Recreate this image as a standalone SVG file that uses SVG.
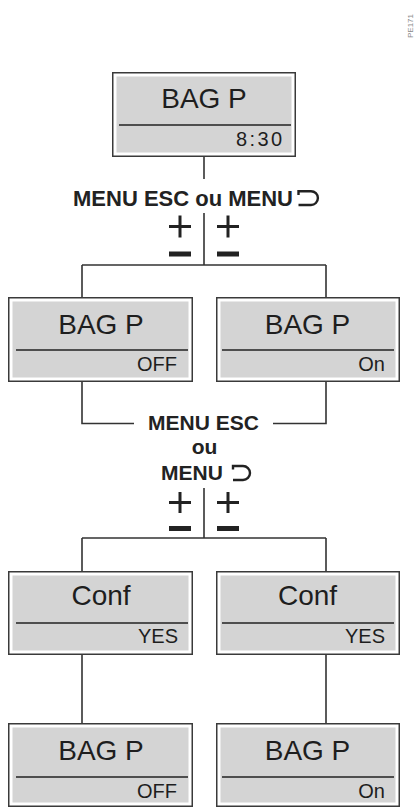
<svg xmlns="http://www.w3.org/2000/svg" width="417" height="808" viewBox="0 0 417 808">
<style>
.frame{fill:#fff;stroke:#3a3a3a;stroke-width:1.5}
.lcd{fill:#d4d4d4}
.div{stroke:#222;stroke-width:1.3}
.title{font-family:"Liberation Sans","DejaVu Sans",sans-serif;font-size:28px;fill:#1e1e1e;text-anchor:middle}
.sub{font-family:"Liberation Sans","DejaVu Sans",sans-serif;font-size:20px;fill:#1e1e1e;text-anchor:end}
.lbl{font-family:"Liberation Sans",Arial,sans-serif;font-size:22px;font-weight:bold;fill:#222}
.lbl2{font-family:"Liberation Sans",Arial,sans-serif;font-size:21px;font-weight:bold;fill:#222}
.con{fill:none;stroke:#333;stroke-width:1.6}
.sym{fill:none;stroke:#222;stroke-width:2.4}
.plus{stroke:#222;stroke-width:3}
.minus{stroke:#222;stroke-width:5}
.code{font-family:"Liberation Sans",sans-serif;font-size:8px;fill:#8a8a8a}
</style>

<text class="code" transform="translate(413,38) rotate(-90)">PE171</text>

<g id="connectors">
  <path class="con" d="M204 157 V179"/>
  <path class="con" d="M204 213 V265 M82 265 H326 M82 265 V297 M326 265 V297"/>
  <path class="con" d="M82 382 V423.5 H134 M273 423.5 H326 V382"/>
  <path class="con" d="M204 488 V538 M82 538 H326 M82 538 V571 M326 538 V571"/>
  <path class="con" d="M82 655 V723 M326 655 V723"/>
</g>

<g id="label-1">
  <text class="lbl" x="73" y="206">MENU ESC ou MENU</text>
  <path class="sym" d="M298.5 195 V191.2 H311 A6.9 6.9 0 0 1 311 205 H298.5"/>
</g>
<g id="keys-1">
  <path class="plus" d="M169 226.5 H191 M180 215.5 V237.5 M217 226.5 H239 M228 215.5 V237.5"/>
  <path class="minus" d="M169 254 H191 M217 254 H239"/>
</g>

<g id="label-2">
  <text class="lbl2" x="148" y="429.5">MENU ESC</text>
  <text class="lbl2" x="204.5" y="454" text-anchor="middle">ou</text>
  <text class="lbl2" x="161" y="480">MENU</text>
  <path class="sym" d="M233 469.5 V466 H243 A7 7 0 0 1 243 480 H233"/>
</g>
<g id="keys-2">
  <path class="plus" d="M169 502.5 H191 M180 492 V513 M217 502.5 H239 M228 492 V513"/>
  <path class="minus" d="M169 528.5 H191 M217 528.5 H239"/>
</g>

<g id="node-top">
  <rect class="frame" x="112.75" y="72.75" width="182.5" height="83.5"/>
  <rect class="lcd" x="116.5" y="76.5" width="175" height="76"/>
  <line class="div" x1="119" y1="125" x2="291" y2="125"/>
  <text class="title" x="204" y="108">BAG P</text>
  <text class="sub" x="282" y="146" textLength="46" lengthAdjust="spacing">8:30</text>
</g>

<g id="node-off-1">
  <rect class="frame" x="8.75" y="297.75" width="183.5" height="83.5"/>
  <rect class="lcd" x="12.5" y="301.5" width="176" height="76"/>
  <line class="div" x1="16" y1="350" x2="188" y2="350"/>
  <text class="title" x="101" y="334">BAG P</text>
  <text class="sub" x="177" y="371">OFF</text>
</g>

<g id="node-on-1">
  <rect class="frame" x="216.75" y="297.75" width="182.5" height="83.5"/>
  <rect class="lcd" x="220.5" y="301.5" width="175" height="76"/>
  <line class="div" x1="222" y1="350" x2="394" y2="350"/>
  <text class="title" x="307.5" y="334">BAG P</text>
  <text class="sub" x="385" y="371">On</text>
</g>

<g id="node-conf-1">
  <rect class="frame" x="8.75" y="571.75" width="183.5" height="82.5"/>
  <rect class="lcd" x="12.5" y="575.5" width="176" height="75"/>
  <line class="div" x1="16" y1="623" x2="188" y2="623"/>
  <text class="title" x="101" y="605">Conf</text>
  <text class="sub" x="178" y="643">YES</text>
</g>

<g id="node-conf-2">
  <rect class="frame" x="216.75" y="571.75" width="182.5" height="82.5"/>
  <rect class="lcd" x="220.5" y="575.5" width="175" height="75"/>
  <line class="div" x1="222" y1="623" x2="394" y2="623"/>
  <text class="title" x="307.5" y="605">Conf</text>
  <text class="sub" x="385" y="643">YES</text>
</g>

<g id="node-off-2">
  <rect class="frame" x="8.75" y="723.75" width="183.5" height="82.5"/>
  <rect class="lcd" x="12.5" y="727.5" width="176" height="75"/>
  <line class="div" x1="16" y1="777" x2="188" y2="777"/>
  <text class="title" x="101" y="760">BAG P</text>
  <text class="sub" x="177" y="798">OFF</text>
</g>

<g id="node-on-2">
  <rect class="frame" x="216.75" y="723.75" width="182.5" height="82.5"/>
  <rect class="lcd" x="220.5" y="727.5" width="175" height="75"/>
  <line class="div" x1="222" y1="777" x2="394" y2="777"/>
  <text class="title" x="307.5" y="760">BAG P</text>
  <text class="sub" x="385" y="798">On</text>
</g>
</svg>
